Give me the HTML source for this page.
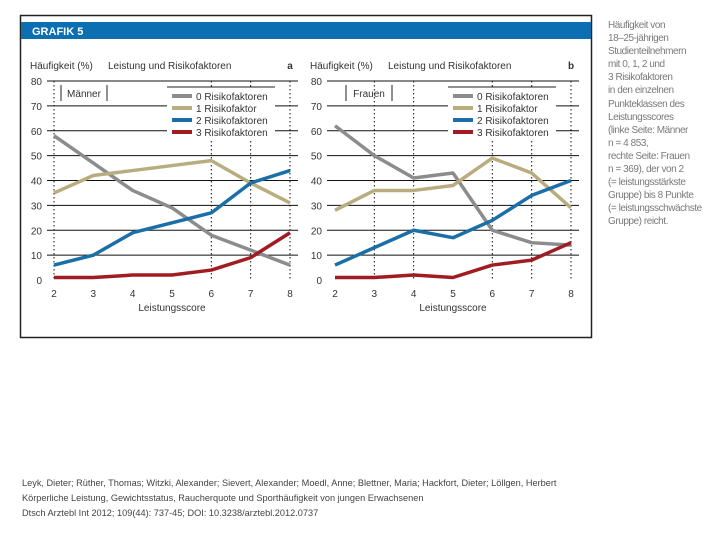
<!DOCTYPE html>
<html><head><meta charset="utf-8"><style>
body{margin:0;background:#fff;width:720px;height:540px;overflow:hidden;font-family:"Liberation Sans",sans-serif}
svg{position:absolute;left:0;top:0}
.side{position:absolute;left:608px;top:19px;font-size:10px;line-height:13.1px;color:#7a7a7a;letter-spacing:-0.45px}
.foot{position:absolute;left:22px;top:476px;font-size:9.2px;line-height:15px;color:#444}
</style></head><body>
<svg id="chart" width="720" height="540">
<rect x="20.5" y="15.5" width="571" height="322" fill="#fff" stroke="#222" stroke-width="1.5"/>
<rect x="21" y="22" width="570" height="17" fill="#0b6fb2"/>
<text x="32" y="35" font-size="11" font-weight="bold" fill="#fff">GRAFIK 5</text>
</svg>
<div class="side">Häufigkeit von<br>18–25-jährigen<br>Studienteilnehmern<br>mit 0, 1, 2 und<br>3 Risikofaktoren<br>in den einzelnen<br>Punkteklassen des<br>Leistungsscores<br>(linke Seite: Männer<br>n = 4 853,<br>rechte Seite: Frauen<br>n = 369), der von 2<br>(= leistungsstärkste<br>Gruppe) bis 8 Punkte<br>(= leistungsschwächste<br>Gruppe) reicht.</div>
<div class="foot">Leyk, Dieter; Rüther, Thomas; Witzki, Alexander; Sievert, Alexander; Moedl, Anne; Blettner, Maria; Hackfort, Dieter; Löllgen, Herbert<br>Körperliche Leistung, Gewichtsstatus, Raucherquote und Sporthäufigkeit von jungen Erwachsenen<br>Dtsch Arztebl Int 2012; 109(44): 737-45; DOI: 10.3238/arztebl.2012.0737</div>
<script>
const categories=[2,3,4,5,6,7,8];
const yTicks=[0,10,20,30,40,50,60,70,80];
const seriesNames=["0 Risikofaktoren","1 Risikofaktor","2 Risikofaktoren","3 Risikofaktoren"];
const colors=["#8a8c8e","#b9ac7f","#1a6fa8","#a01c22"];
const men0=[58,47,36,29,18,12,6];
const men1=[35,42,44,46,48,39,31];
const men2=[6,10,19,23,27,39,44];
const men3=[1,1,2,2,4,9,19];
const women0=[62,50,41,43,20,15,14];
const women1=[28,36,36,38,49,43,29];
const women2=[6,13,20,17,24,34,40];
const women3=[1,1,2,1,6,8,15];
const svg=document.getElementById('chart');
const NS='http://www.w3.org/2000/svg';
function mk(tag,attrs,parent){const e=document.createElementNS(NS,tag);for(const k in attrs)e.setAttribute(k,attrs[k]);(parent||svg).appendChild(e);return e;}
function panel(opt){
  const g=mk('g',{});
  
  
  const x0=opt.x0,x1=opt.x1,yB=280,yT=81;
  const xs=v=>x0+(v-2)*(x1-x0)/6;
  const ys=v=>yB-v*(yB-yT)/80;
  yTicks.forEach(t=>{
    if(t>0){const l=mk('line',{x1:opt.gl,x2:x1+8,y1:ys(t),y2:ys(t),stroke:'#111','stroke-width':1},g);
      }
    const tx=mk('text',{x:opt.tl,y:ys(t)+4,'font-size':10,fill:'#333','text-anchor':'end'},g);tx.textContent=t;
    
  });
  opt.dots.forEach(c=>{const l=mk('line',{x1:xs(c),x2:xs(c),y1:yT,y2:yB,stroke:'#111','stroke-width':1,'stroke-dasharray':'1.5,2.5'},g);
    });
  categories.forEach(c=>{const tx=mk('text',{x:xs(c),y:297,'font-size':10,fill:'#333','text-anchor':'middle'},g);tx.textContent=c;
    });
  let t=mk('text',{x:(x0+x1)/2,y:311,'font-size':10,fill:'#333','text-anchor':'middle'},g);t.textContent='Leistungsscore';
  
  t=mk('text',{x:opt.tl-12,y:69,'font-size':10,fill:'#333'},g);t.textContent='Häufigkeit (%)';
  
  t=mk('text',{x:opt.tl+66,y:69,'font-size':10,fill:'#333'},g);t.textContent='Leistung und Risikofaktoren';
  
  t=mk('text',{x:x1,y:69,'font-size':10,'font-weight':'bold',fill:'#333','text-anchor':'middle'},g);t.textContent=opt.letter;
  
  mk('line',{x1:opt.lb,x2:opt.lb,y1:85,y2:101,stroke:'#222'},g);
  mk('line',{x1:opt.lb+46,x2:opt.lb+46,y1:85,y2:101,stroke:'#222'},g);
  t=mk('text',{x:opt.lb+23,y:97,'font-size':10,fill:'#333','text-anchor':'middle'},g);t.textContent=opt.label;
  
  const lx=x0+113;
  const lr=mk('rect',{x:lx,y:87,width:108,height:52,fill:'#fff'},g);
  
  mk('line',{x1:lx,x2:lx+108,y1:87,y2:87,stroke:'#222'},g);
  seriesNames.forEach((n,i)=>{
    const yy=96+i*12;
    const l=mk('line',{x1:lx+5,x2:lx+25,y1:yy,y2:yy,stroke:colors[i],'stroke-width':4},g);
    
    const tx=mk('text',{x:lx+29,y:yy+4,'font-size':10,fill:'#333'},g);tx.textContent=n;
    
  });
  opt.data.forEach((arr,i)=>{
    const p=mk('polyline',{points:arr.map((v,j)=>xs(categories[j])+','+ys(v)).join(' '),fill:'none',stroke:colors[i],'stroke-width':3.5,'stroke-linejoin':'round'},g);
    
  });
}
panel({name:'panel-men',x0:54,x1:290,gl:47,tl:42,dots:[2,6,7,8],letter:'a',label:'Männer',lb:61,data:[men0,men1,men2,men3]});
panel({name:'panel-women',x0:335,x1:571,gl:327,tl:322,dots:[3,4,6,7,8],letter:'b',label:'Frauen',lb:346,data:[women0,women1,women2,women3]});
</script>
</body></html>
